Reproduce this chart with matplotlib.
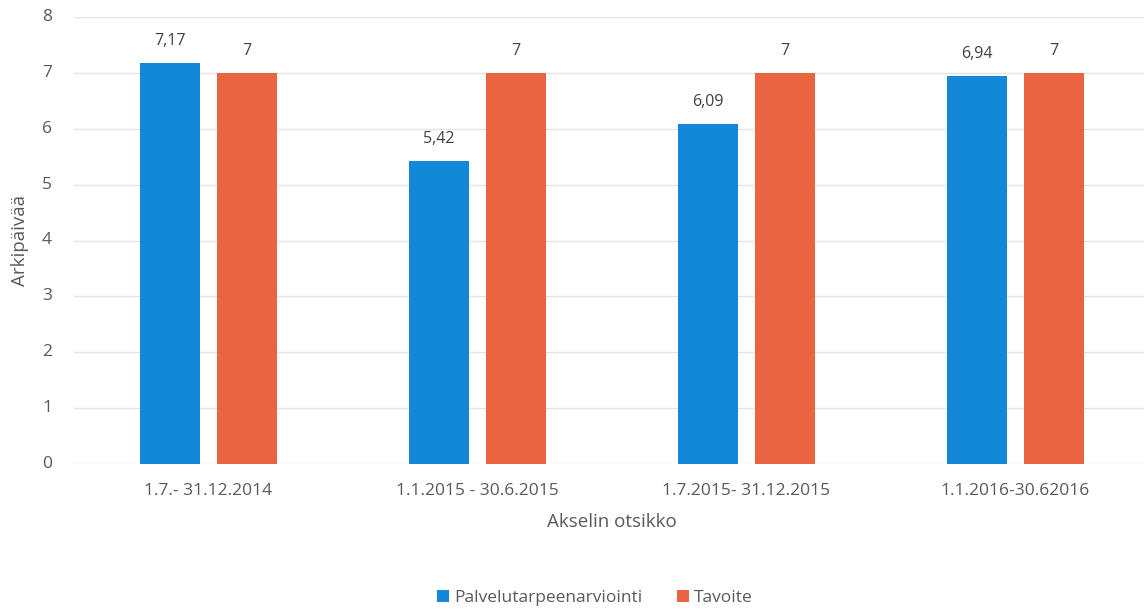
import numpy as np
import matplotlib.pyplot as plt
import matplotlib.transforms as mtransforms

categories = ['1.7.- 31.12.2014', '1.1.2015 - 30.6.2015', '1.7.2015- 31.12.2015', '1.1.2016-30.62016']
palvelu = [7.17, 5.42, 6.09, 6.94]
tavoite = [7, 7, 7, 7]
palvelu_labels = ['7,17', '5,42', '6,09', '6,94']
tavoite_labels = ['7', '7', '7', '7']
yticks = list(range(0, 9))

blue = '#1488d8'
orange = '#ea6440'
grey = '#595959'

plt.rcParams['font.family'] = ['Open Sans', 'DejaVu Sans']

fig = plt.figure(figsize=(11.44, 6.12), dpi=100)
ax = fig.add_axes([74 / 1144, 1 - 464 / 612, 1076 / 1144, 447 / 612])

x = np.arange(len(categories))
w = 0.223
off = 0.143
b1 = ax.bar(x - off, palvelu, w, color=blue, label='Palvelutarpeenarviointi', zorder=3)
b2 = ax.bar(x + off, tavoite, w, color=orange, label='Tavoite', zorder=3)

for rect, lab in zip(b1, palvelu_labels):
    ax.text(rect.get_x() + rect.get_width() / 2, rect.get_height() + 0.25, lab,
            ha='center', va='bottom', fontsize=11.5, color='#404040')
for rect, lab in zip(b2, tavoite_labels):
    ax.text(rect.get_x() + rect.get_width() / 2, rect.get_height() + 0.25, lab,
            ha='center', va='bottom', fontsize=11.5, color='#404040')

ax.set_ylim(0, 8)
ax.set_xlim(-0.5, len(categories) - 0.5)
ax.set_yticks(yticks)
ax.set_yticklabels([])
ax.set_xticks(x)
ax.set_xticklabels(categories)
ax.yaxis.grid(True, color='#e3e3e3', linewidth=1, zorder=0)
for s in ax.spines.values():
    s.set_visible(False)
ax.tick_params(axis='both', length=0, colors=grey, labelsize=12.5)
ax.tick_params(axis='x', pad=14)

# y tick labels drawn as text so they sit ~22 px left of the grid
trans = mtransforms.blended_transform_factory(ax.transAxes, ax.transData)
for t in yticks:
    ax.text(-22 / 1076, t, str(t), transform=trans, ha='right', va='center',
            fontsize=12.5, color=grey)

ax.set_ylabel('Arkipäivää', fontsize=13.5, color=grey)
ax.yaxis.set_label_coords(-45 / 1076, 0.5)
ax.set_xlabel('Akselin otsikko', fontsize=13.5, color=grey, labelpad=10)

fig.legend(handles=[b1, b2], loc='center', bbox_to_anchor=(0.52, 1 - 598 / 612),
           ncol=2, frameon=False, fontsize=12.5, handlelength=0.7, handleheight=0.7,
           handletextpad=0.3, columnspacing=2.0, labelcolor=grey)

fig.savefig('out.png', dpi=100)
